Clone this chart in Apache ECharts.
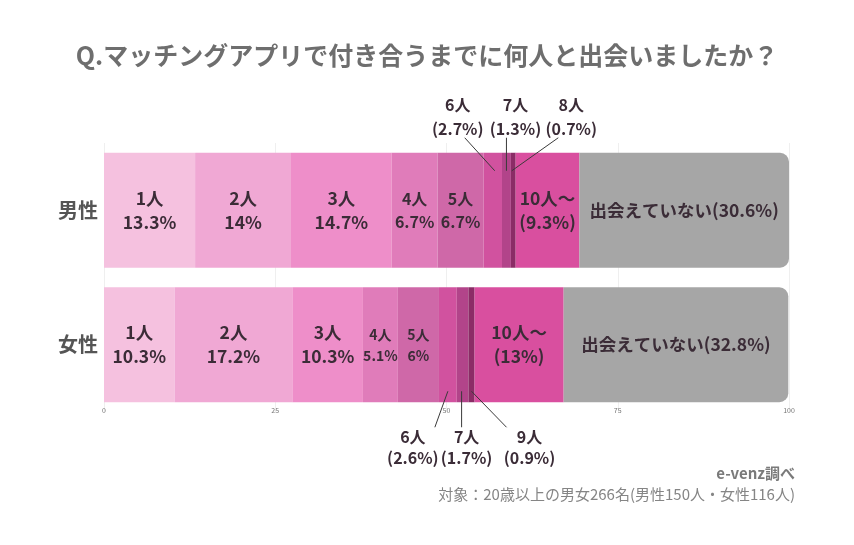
<!DOCTYPE html>
<html>
<head>
<meta charset="utf-8">
<script src="https://cdn.jsdelivr.net/npm/echarts@6/dist/echarts.min.js"></script>
<style>
html,body{margin:0;padding:0;background:#fff;}
#chart{width:854px;height:545px;}
</style>
</head>
<body>
<div id="chart"></div>
<script>
// ---- data ----
const groups = ['男性', '女性'];
const buckets = ['1人', '2人', '3人', '4人', '5人', '6人', '7人', '8人', '9人', '10人～', '出会えていない'];
const menValues = [13.3, 14, 14.7, 6.7, 6.7, 2.7, 1.3, 0.7, 0, 9.3, 30.6];
const womenValues = [10.3, 17.2, 10.3, 5.1, 6, 2.6, 1.7, 0, 0.9, 13, 32.8];
const xTicks = [0, 25, 50, 75, 100];
const titleText = 'Q.マッチングアプリで付き合うまでに何人と出会いましたか？';
const sourceText = 'e-venz調べ';
const noteText = '対象：20歳以上の男女266名(男性150人・女性116人)';

// ---- styles ----
const colors = ['#f5c1df', '#f0a8d4', '#ee8ec9', '#e07cba', '#cf68a8', '#d1529f', '#b2448a', '#8b2c66', '#8b2c66', '#d94f9f', '#a6a6a6'];
const FONT = '"Noto Sans CJK JP", "Noto Sans", sans-serif';
const TXT = '#3b2c37';
const smallBuckets = ['6人', '7人', '8人', '9人'];

const valuesByGroup = [menValues, womenValues];

function labelFor(bucketIdx, gIdx) {
  const name = buckets[bucketIdx];
  const v = valuesByGroup[gIdx][bucketIdx];
  if (smallBuckets.includes(name)) return { show: false };
  let text, size = 17.5, lh = 24;
  if (name === '出会えていない') text = name + '(' + v + '%)';
  else if (name === '10人～') text = name + '\n(' + v + '%)';
  else text = name + '\n' + v + '%';
  if (name === '4人' || name === '5人') { size = gIdx === 0 ? 16 : 14; lh = gIdx === 0 ? 23 : 21; }
  return {
    show: true, position: 'inside', formatter: text,
    color: TXT, fontFamily: FONT, fontWeight: 'bold', fontSize: size,
    lineHeight: lh
  };
}

const series = buckets.map((b, i) => ({
  name: b,
  type: 'bar',
  stack: 'total',
  barWidth: 115,
  itemStyle: {
    color: colors[i],
    borderRadius: i === buckets.length - 1 ? [0, 9, 9, 0] : 0
  },
  emphasis: { disabled: true },
  data: groups.map((g, gi) => ({
    value: valuesByGroup[gi][i],
    label: labelFor(i, gi)
  }))
}));

const chart = echarts.init(document.getElementById('chart'), null, { renderer: 'canvas' });
const baseGraphics = [
  { type: 'text', left: 'center', top: 43, style: { text: titleText, fill: '#6e6e6e', font: 'bold 25px ' + FONT } },
  { type: 'text', right: 59, top: 466, style: { text: sourceText, fill: '#7a7a7a', font: 'bold 15px ' + FONT, textAlign: 'right' } },
  { type: 'text', right: 59, top: 487, style: { text: noteText, fill: '#858585', font: '15px ' + FONT, textAlign: 'right' } }
];

chart.setOption({
  animation: false,
  backgroundColor: '#ffffff',
  grid: { left: 104, right: 65, top: 143, bottom: 133, containLabel: false },
  xAxis: {
    type: 'value', min: xTicks[0], max: xTicks[xTicks.length - 1], interval: 25,
    offset: -8,
    axisLine: { show: false }, axisTick: { show: false },
    splitLine: { show: true, lineStyle: { color: '#efefef', width: 1 } },
    axisLabel: { fontSize: 7, color: '#777', margin: 3, fontFamily: FONT }
  },
  yAxis: {
    type: 'category', data: groups, inverse: true,
    axisLine: { show: false }, axisTick: { show: false },
    axisLabel: { fontSize: 20, fontWeight: 'bold', color: '#555', margin: 6, fontFamily: FONT }
  },
  series: series,
  graphic: baseGraphics
});

// ---- annotations for small segments, positioned from the axes ----
const menNotes = [
  { bucket: '6人', lineStartDx: -28, lineEndDx: 2, labelDx: -35 },
  { bucket: '7人', lineStartDx: 0, lineEndDx: 0, labelDx: 9 },
  { bucket: '8人', lineStartDx: 45, lineEndDx: -1.5, labelDx: 58 }
];
const womenNotes = [
  { bucket: '6人', lineStartDx: 0, lineEndDx: -13, labelDx: -35 },
  { bucket: '7人', lineStartDx: -1, lineEndDx: -1, labelDx: 4 },
  { bucket: '9人', lineStartDx: 0, lineEndDx: 35, labelDx: 58 }
];

function segCenter(gIdx, bucket) {
  const vals = valuesByGroup[gIdx];
  const bi = buckets.indexOf(bucket);
  let cum = 0;
  for (let k = 0; k < bi; k++) cum += vals[k];
  const mid = cum + vals[bi] / 2;
  return chart.convertToPixel({ gridIndex: 0 }, [mid, groups[gIdx]]);
}

const extra = [];
const halfBar = 57.5;
const LINE = '#3a3a3a';
const labelFont = 'bold 16px ' + FONT;
menNotes.forEach(n => {
  const [cx, cy] = segCenter(0, n.bucket);
  const top = cy - halfBar;
  const v = menValues[buckets.indexOf(n.bucket)];
  extra.push({ type: 'line', shape: { x1: cx + n.lineStartDx, y1: top - 15, x2: cx + n.lineEndDx, y2: top + 18 }, style: { stroke: LINE, lineWidth: 1 }, z: 100 });
  extra.push({ type: 'text', x: cx + n.labelDx, y: top - 48, style: { text: n.bucket, font: labelFont, fill: TXT, textAlign: 'center', textVerticalAlign: 'middle' }, z: 100 });
  extra.push({ type: 'text', x: cx + n.labelDx, y: top - 24, style: { text: '(' + v + '%)', font: labelFont, fill: TXT, textAlign: 'center', textVerticalAlign: 'middle' }, z: 100 });
});
womenNotes.forEach(n => {
  const [cx, cy] = segCenter(1, n.bucket);
  const bottom = cy + halfBar;
  const v = womenValues[buckets.indexOf(n.bucket)];
  extra.push({ type: 'line', shape: { x1: cx + n.lineStartDx, y1: bottom - 11, x2: cx + n.lineEndDx, y2: bottom + 25 }, style: { stroke: LINE, lineWidth: 1 }, z: 100 });
  extra.push({ type: 'text', x: cx + n.labelDx, y: bottom + 35, style: { text: n.bucket, font: labelFont, fill: TXT, textAlign: 'center', textVerticalAlign: 'middle' }, z: 100 });
  extra.push({ type: 'text', x: cx + n.labelDx, y: bottom + 56, style: { text: '(' + v + '%)', font: labelFont, fill: TXT, textAlign: 'center', textVerticalAlign: 'middle' }, z: 100 });
});

chart.setOption({ graphic: baseGraphics.concat(extra) });
</script>
</body>
</html>
